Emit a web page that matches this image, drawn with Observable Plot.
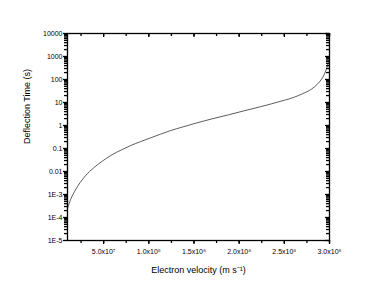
<!DOCTYPE html>
<html><head><meta charset="utf-8">
<script src="https://cdn.jsdelivr.net/npm/d3@7"></script>
<script src="https://cdn.jsdelivr.net/npm/@observablehq/plot@0.6"></script>
<style>body{margin:0;background:#fff}</style>
</head><body><div id="chart"></div>
<script>
const velocity = [1.0e7, 1.4e7, 1.8e7, 2.4e7, 3.0e7, 3.9e7, 4.9e7, 5.8e7, 7.0e7, 8.0e7, 9.1e7, 1.02e8, 1.13e8, 1.24e8, 1.37e8, 1.5e8, 1.7e8, 1.88e8, 2.05e8, 2.24e8, 2.36e8, 2.5e8, 2.61e8, 2.7e8, 2.8e8, 2.87e8, 2.91e8, 2.94e8, 2.965e8, 2.985e8];
const deflectionTime = [2.5e-4, 6.8e-4, 1.4e-3, 3.3e-3, 6.6e-3, 0.0145, 0.029, 0.050, 0.088, 0.135, 0.20, 0.29, 0.42, 0.60, 0.85, 1.2, 1.95, 2.9, 4.3, 6.6, 8.8, 12.5, 17, 24, 38, 65, 100, 160, 280, 500];

const xTicks = [5e7, 1e8, 1.5e8, 2e8, 2.5e8, 3e8];
const xTickLabels = ["5.0x10⁷", "1.0x10⁸", "1.5x10⁸", "2.0x10⁸", "2.5x10⁸", "3.0x10⁸"];
const yTicks = [1e-5, 1e-4, 1e-3, 1e-2, 1e-1, 1, 10, 100, 1000, 10000];
const yTickLabels = ["1E-5", "1E-4", "1E-3", "0.01", "0.1", "1", "10", "100", "1000", "10000"];
const xLabel = "Electron velocity (m s⁻¹)";
const yLabel = "Deflection Time (s)";

const xMinor = [];
for (let k = 1; k <= 12; k++) xMinor.push(k * 2.5e7);
const yMinor = [];
for (let e = -5; e < 4; e++) for (let m = 2; m <= 9; m++) yMinor.push(m * Math.pow(10, e));

const W = 382, H = 291, ML = 67, MR = 53, MT = 33, MB = 51;
const FW = W - ML - MR, FH = H - MT - MB;

const data = velocity.map((v, i) => ({v, t: deflectionTime[i]}));
const xl = d => xTickLabels[xTicks.findIndex(t => Math.abs(t - d) < 1)];
const yl = d => yTickLabels[yTicks.findIndex(t => Math.abs(t - d) / t < 1e-6)];
const tk = {stroke: "#000", strokeWidth: 1.3};

const chart = Plot.plot({
  width: W, height: H,
  marginLeft: ML, marginRight: MR, marginTop: MT, marginBottom: MB,
  style: {fontFamily: "'Liberation Sans', Arial, sans-serif", fontSize: "7px", color: "#000", background: "#fff"},
  x: {type: "linear", domain: [1e7, 3e8]},
  y: {type: "log", domain: [1e-5, 1e4]},
  marks: [
    Plot.line(data, {x: "v", y: "t", stroke: "#333", strokeWidth: 0.8, curve: "monotone-x"}),
    // tick labels
    Plot.axisX({anchor: "bottom", ticks: xTicks, tickSize: 0, tickPadding: 9, tickFormat: xl, label: null}),
    Plot.axisY({anchor: "left", ticks: yTicks, tickSize: 0, tickPadding: 5, tickFormat: yl, label: null}),
    // bottom ticks (outward)
    Plot.tickX(xTicks, {x: d => d, insetTop: FH, insetBottom: -4, ...tk}),
    Plot.tickX(xMinor, {x: d => d, insetTop: FH, insetBottom: -3, ...tk}),
    // top ticks (inward)
    Plot.tickX(xTicks, {x: d => d, insetBottom: FH - 4, ...tk}),
    Plot.tickX(xMinor, {x: d => d, insetBottom: FH - 3, ...tk}),
    // left ticks (outward)
    Plot.tickY(yTicks, {y: d => d, insetRight: FW, insetLeft: -4, ...tk}),
    Plot.tickY(yMinor, {y: d => d, insetRight: FW, insetLeft: -3, ...tk}),
    // right ticks (inward)
    Plot.tickY(yTicks, {y: d => d, insetLeft: FW - 4, ...tk}),
    Plot.tickY(yMinor, {y: d => d, insetLeft: FW - 3, ...tk}),
    Plot.frame({stroke: "#000", strokeWidth: 1.3}),
    Plot.text([xLabel], {frameAnchor: "bottom", dy: 32, text: d => d, fontSize: 9}),
    Plot.text([yLabel], {frameAnchor: "left", dx: -40, dy: 7, rotate: -90, text: d => d, fontSize: 9})
  ]
});
document.getElementById("chart").appendChild(chart);
</script>
</body></html>
